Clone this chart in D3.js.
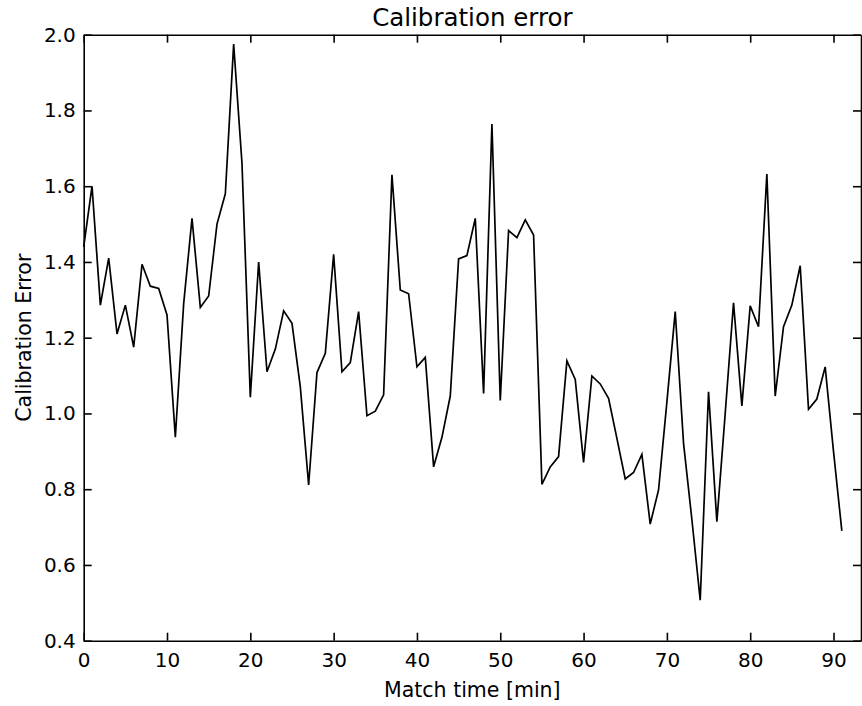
<!DOCTYPE html>
<html lang="en">
<head>
<meta charset="utf-8">
<title>Calibration error</title>
<script src="https://d3js.org/d3.v7.min.js"></script>
<style>
  body { margin: 0; background: #fff; }
  text { font-family: "DejaVu Sans", sans-serif; fill: #000; }
  .axis path, .axis line { stroke: #000; }
</style>
</head>
<body>
<div id="chart"></div>
<script>
// match minute 0..91
var minutes = d3.range(0, 92)
var calibError = [
  1.44, 1.60, 1.286, 1.41, 1.21, 1.286, 1.175, 1.394, 1.336, 1.33,
  1.26, 0.937, 1.29, 1.515, 1.28, 1.31, 1.50, 1.58, 1.975, 1.66,
  1.043, 1.40, 1.11, 1.17, 1.271, 1.238, 1.07, 0.811, 1.108, 1.159,
  1.42, 1.11, 1.134, 1.269, 0.994, 1.006, 1.049, 1.63, 1.326, 1.316,
  1.123, 1.148, 0.859, 0.937, 1.046, 1.408, 1.417, 1.515, 1.053, 1.764,
  1.034, 1.483, 1.464, 1.511, 1.471, 0.813, 0.859, 0.886, 1.139, 1.09,
  0.871, 1.099, 1.078, 1.04, 0.934, 0.827, 0.844, 0.892, 0.708, 0.798,
  1.03, 1.269, 0.921, 0.72, 0.507, 1.057, 0.714, 1.0, 1.292, 1.02,
  1.284, 1.229, 1.632, 1.046, 1.229, 1.286, 1.39, 1.011, 1.038, 1.123,
  0.9, 0.69
]
var xTicks = [0, 10, 20, 30, 40, 50, 60, 70, 80, 90]
var yTicks = [0.4, 0.6, 0.8, 1.0, 1.2, 1.4, 1.6, 1.8, 2.0]

var w = 862, h = 706
var plotL = 83.7, plotR = 861, plotT = 34.7, plotB = 640.7

var svg = d3.select("#chart").append("svg")
  .attr("width", w)
  .attr("height", h)

var x = d3.scaleLinear().domain([0, 93.3]).range([plotL, plotR])
var y = d3.scaleLinear().domain([0.4, 2.0]).range([plotB, plotT])

var tick = 8

// bottom + left axes with labels, ticks pointing in
svg.append("g").attr("class", "axis")
  .attr("transform", "translate(0," + plotB + ")")
  .call(d3.axisBottom(x).tickValues(xTicks).tickSizeInner(-tick).tickSizeOuter(0).tickPadding(12).tickFormat(d3.format("d")))
  .call(g => g.selectAll("text").attr("font-size", 20).attr("font-family", "DejaVu Sans"))

svg.append("g").attr("class", "axis")
  .attr("transform", "translate(" + plotL + ",0)")
  .call(d3.axisLeft(y).tickValues(yTicks).tickSizeInner(-tick).tickSizeOuter(0).tickPadding(8).tickFormat(d3.format(".1f")))
  .call(g => g.selectAll("text").attr("font-size", 20).attr("font-family", "DejaVu Sans"))

// top + right mirrored ticks, no labels
svg.append("g").attr("class", "axis")
  .attr("transform", "translate(0," + plotT + ")")
  .call(d3.axisTop(x).tickValues(xTicks).tickSizeInner(-tick).tickSizeOuter(0).tickFormat(""))

svg.append("g").attr("class", "axis")
  .attr("transform", "translate(" + plotR + ",0)")
  .call(d3.axisRight(y).tickValues(yTicks).tickSizeInner(-tick).tickSizeOuter(0).tickFormat(""))

svg.selectAll(".axis path, .axis line").attr("stroke-width", 1.6)

var line = d3.line()
  .x(function(d, i) { return x(minutes[i]) })
  .y(function(d) { return y(d) })

svg.append("path")
  .datum(calibError)
  .attr("d", line)
  .attr("fill", "none")
  .attr("stroke", "#000")
  .attr("stroke-width", 1.7)
  .attr("stroke-linejoin", "miter")

svg.append("text")
  .attr("x", (plotL + plotR) / 2)
  .attr("y", 26)
  .attr("text-anchor", "middle")
  .attr("font-size", 24.5)
  .text("Calibration error")

svg.append("text")
  .attr("x", (plotL + plotR) / 2)
  .attr("y", 697)
  .attr("text-anchor", "middle")
  .attr("font-size", 20.5)
  .text("Match time [min]")

svg.append("text")
  .attr("transform", "translate(31," + ((plotT + plotB) / 2) + ") rotate(-90)")
  .attr("text-anchor", "middle")
  .attr("font-size", 20.5)
  .text("Calibration Error")
</script>
</body>
</html>
